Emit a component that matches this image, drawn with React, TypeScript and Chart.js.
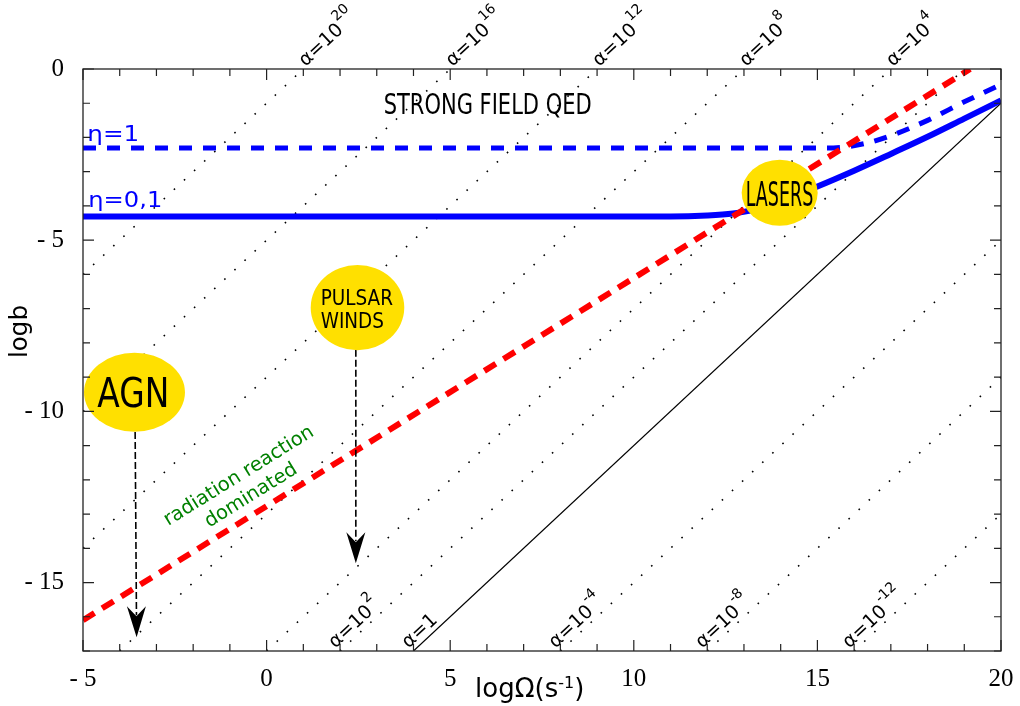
import React, { useEffect, useRef } from 'react';
import { Chart, registerables } from 'chart.js';

Chart.register(...registerables);

// ---- axis ticks ----
const xTickValues = [-5, 0, 5, 10, 15, 20];
const xTickLabels = ['- 5', '0', '5', '10', '15', '20'];
const yTickValues = [-15, -10, -5, 0];
const yTickLabels = ['- 15', '- 10', '- 5', '0'];

// ---- radiation reaction boundary (red dashed) ----
const redX = [-5, 19.16];
const redY = [-16.1, 0];

// ---- eta = 1 (blue dashed) ----
const etaOneX = [-5, 15.2, 15.8, 16.4, 17, 18, 19, 20];
const etaOneY = [-2.31, -2.31, -2.27, -2.15, -1.95, -1.5, -0.96, -0.45];

// ---- eta = 0.1 (blue solid) ----
const etaTenthX = [-5, 11, 12, 12.7, 13.3, 14, 15, 16, 17, 18, 19, 20];
const etaTenthY = [-4.31, -4.31, -4.28, -4.22, -4.1, -3.85, -3.43, -2.97, -2.48, -1.98, -1.45, -0.92];

// ---- alpha = 1 (solid black) ----
const unitX = [4, 20];
const unitY = [-17, -1];

// ---- alpha = 10^k (dotted) ----
const alphaExp = [20, 16, 12, 8, 4, 2, -4, -8, -12];
const alphaX0 = [-5, -5, -5, -4, 0, 2, 8, 12, 16];
const alphaY0 = [-6, -10, -14, -17, -17, -17, -17, -17, -17];
const alphaX1 = [1, 5, 9, 13, 17, 19, 20, 20, 20];
const alphaY1 = [0, 0, 0, 0, 0, 0, -5, -9, -13];
const alphaLabelSide = ['top', 'top', 'top', 'top', 'top', 'bottom', 'bottom', 'bottom', 'bottom'];

// ---- source regions (ellipses) ----
const regionNames = ['AGN', 'PULSAR', 'LASERS'];
const regionCX = [-3.598, 2.475, 13.973];
const regionCY = [-9.445, -6.97, -3.618];
const regionRX = [1.375, 1.274, 1.035];
const regionRY = [1.154, 1.242, 0.964];

// ---- arrows (from region down to lower field) ----
const arrowX0 = [-3.58, 2.43];
const arrowY0 = [-10.6, -8.2];
const arrowX1 = [-3.54, 2.43];
const arrowY1 = [-16.6, -14.44];

const SANS = '"DejaVu Sans", "Noto Sans", sans-serif';
const SERIF = '"Liberation Serif", "Times New Roman", serif';

const pts = (xs: number[], ys: number[]) => xs.map((v, i) => ({ x: v, y: ys[i] }));

function fitText(ctx: CanvasRenderingContext2D, text: string, x: number, y: number, size: number, width: number | null, align: CanvasTextAlign, scaleOverride?: number) {
  ctx.save();
  ctx.font = `${size}px ${SANS}`;
  const w = ctx.measureText(text).width;
  const s = scaleOverride ?? (width ? width / w : 1);
  ctx.translate(x, y);
  ctx.scale(s, 1);
  ctx.textAlign = align;
  ctx.textBaseline = 'alphabetic';
  ctx.fillText(text, 0, 0);
  ctx.restore();
  return s;
}

const overlay = {
  id: 'overlay',
  afterDatasetsDraw(chart: any) {
    const { ctx } = chart;
    const xs = chart.scales.x;
    const ys = chart.scales.y;
    const X = (v: number) => xs.getPixelForValue(v);
    const Y = (v: number) => ys.getPixelForValue(v);

    // arrows
    ctx.save();
    for (let i = 0; i < arrowX0.length; i++) {
      const sx = X(arrowX0[i]), sy = Y(arrowY0[i]);
      const tx = X(arrowX1[i]), ty = Y(arrowY1[i]);
      const dx = tx - sx, dy = ty - sy;
      const L = Math.hypot(dx, dy);
      const ux = dx / L, uy = dy / L;
      const nx = -uy, ny = ux;
      ctx.strokeStyle = '#000';
      ctx.lineWidth = 1.6;
      ctx.setLineDash([7, 3]);
      ctx.beginPath();
      ctx.moveTo(sx, sy);
      ctx.lineTo(tx - ux * 22, ty - uy * 22);
      ctx.stroke();
      ctx.setLineDash([]);
      ctx.fillStyle = '#000';
      ctx.beginPath();
      ctx.moveTo(tx, ty);
      ctx.lineTo(tx - ux * 31 + nx * 9.5, ty - uy * 31 + ny * 9.5);
      ctx.lineTo(tx - ux * 21, ty - uy * 21);
      ctx.lineTo(tx - ux * 31 - nx * 9.5, ty - uy * 31 - ny * 9.5);
      ctx.closePath();
      ctx.fill();
    }
    ctx.restore();

    // ellipses
    ctx.save();
    ctx.fillStyle = '#ffe000';
    for (let i = 0; i < regionNames.length; i++) {
      const cx = X(regionCX[i]), cy = Y(regionCY[i]);
      const rx = Math.abs(X(regionCX[i] + regionRX[i]) - cx);
      const ry = Math.abs(Y(regionCY[i] + regionRY[i]) - cy);
      ctx.beginPath();
      ctx.ellipse(cx, cy, rx, ry, 0, 0, Math.PI * 2);
      ctx.fill();
    }
    ctx.restore();

    ctx.save();
    ctx.fillStyle = '#000';
    fitText(ctx, 'AGN', X(-3.63), Y(-9.886), 41, 72, 'center');
    const s = fitText(ctx, 'PULSAR', X(1.473), Y(-6.897), 21.5, 72.3, 'left');
    fitText(ctx, 'WINDS', X(1.473), Y(-7.577), 21.5, null, 'left', s);
    fitText(ctx, 'LASERS', X(13.967), Y(-3.992), 34, 67.6, 'center');
    fitText(ctx, 'STRONG FIELD QED', X(6.02), Y(-1.3), 29, 208, 'center');
    ctx.fillStyle = '#0000ff';
    fitText(ctx, 'η=1', X(-4.883), Y(-2.104), 21, 52, 'left');
    fitText(ctx, 'η=0,1', X(-4.856), Y(-4.024), 21, 74, 'left');

    const ang = Math.atan2(Y(redY[1]) - Y(redY[0]), X(redX[1]) - X(redX[0]));
    ctx.fillStyle = '#008000';
    ctx.translate(X(-0.752), Y(-11.894));
    ctx.rotate(ang);
    ctx.font = `19.5px ${SANS}`;
    ctx.textAlign = 'center';
    ctx.textBaseline = 'middle';
    ctx.fillText('radiation reaction', 0, 0);
    ctx.fillText('dominated', 0, 23);
    ctx.restore();
  },
  afterDraw(chart: any) {
    const { ctx, chartArea: ca } = chart;
    const xs = chart.scales.x;
    const ys = chart.scales.y;
    const X = (v: number) => xs.getPixelForValue(v);
    const Y = (v: number) => ys.getPixelForValue(v);

    ctx.save();
    ctx.strokeStyle = '#222';
    ctx.lineWidth = 1.3;
    ctx.strokeRect(ca.left, ca.top, ca.right - ca.left, ca.bottom - ca.top);
    ctx.lineWidth = 1.2;
    ctx.beginPath();
    for (let v = Math.ceil(xs.min); v <= xs.max; v++) {
      const p = X(v);
      const len = v % 5 === 0 ? 11 : 7;
      ctx.moveTo(p, ca.bottom); ctx.lineTo(p, ca.bottom - len);
      ctx.moveTo(p, ca.top); ctx.lineTo(p, ca.top + len);
    }
    for (let v = Math.ceil(ys.min); v <= ys.max; v++) {
      const p = Y(v);
      const len = v % 5 === 0 ? 11 : 7;
      ctx.moveTo(ca.left, p); ctx.lineTo(ca.left + len, p);
      ctx.moveTo(ca.right, p); ctx.lineTo(ca.right - len, p);
    }
    ctx.stroke();

    const ang = Math.atan2(Y(unitY[1]) - Y(unitY[0]), X(unitX[1]) - X(unitX[0]));
    const dirX = Math.cos(ang), dirY = Math.sin(ang);
    const upX = Math.sin(ang), upY = -Math.cos(ang);
    ctx.fillStyle = '#000';
    const drawAlpha = (px: number, py: number, exp: number | null) => {
      ctx.save();
      ctx.translate(px, py);
      ctx.rotate(ang);
      ctx.textAlign = 'left';
      ctx.textBaseline = 'alphabetic';
      ctx.font = `19px ${SANS}`;
      const main = exp === null ? 'α=1' : 'α=10';
      ctx.fillText(main, 0, 0);
      if (exp !== null) {
        const w = ctx.measureText(main).width;
        ctx.font = `14px ${SANS}`;
        ctx.fillText(String(exp), w + 1, -12);
      }
      ctx.restore();
    };
    for (let i = 0; i < alphaExp.length; i++) {
      if (alphaLabelSide[i] === 'top') {
        const ix = X(alphaX1[i]), iy = Y(alphaY1[i]);
        drawAlpha(ix + dirX * 3, iy + dirY * 3, alphaExp[i]);
      } else {
        const ix = X(alphaX0[i]), iy = Y(alphaY0[i]);
        drawAlpha(ix + upX * 5 - dirX * 2, iy + upY * 5 - dirY * 2, alphaExp[i]);
      }
    }
    drawAlpha(X(unitX[0]) + upX * 5 - dirX * 2, Y(unitY[0]) + upY * 5 - dirY * 2, null);

    ctx.save();
    ctx.translate(ca.left - 56, (ca.top + ca.bottom) / 2 - 28.5);
    ctx.rotate(-Math.PI / 2);
    ctx.font = `24.5px ${SANS}`;
    ctx.textAlign = 'center';
    ctx.textBaseline = 'alphabetic';
    ctx.fillText('logb', 0, 0);
    ctx.restore();

    ctx.save();
    ctx.textAlign = 'left';
    ctx.textBaseline = 'alphabetic';
    let tx = ca.left + 392;
    const ty = ca.bottom + 46;
    ctx.font = `26px ${SANS}`;
    ctx.fillText('logΩ(s', tx, ty);
    tx += ctx.measureText('logΩ(s').width;
    ctx.font = `16px ${SANS}`;
    ctx.fillText('-1', tx, ty - 9);
    tx += ctx.measureText('-1').width;
    ctx.font = `26px ${SANS}`;
    ctx.fillText(')', tx, ty);
    ctx.restore();

    ctx.restore();
  },
};

export default function App() {
  const ref = useRef<HTMLCanvasElement | null>(null);
  useEffect(() => {
    if (!ref.current) return;
    const dotted = alphaExp.map((_, i) => ({
      data: [{ x: alphaX0[i], y: alphaY0[i] }, { x: alphaX1[i], y: alphaY1[i] }],
      borderColor: '#000',
      borderWidth: 1.6,
      borderDash: [1.6, 12.2],
      showLine: true,
      pointRadius: 0,
    }));
    const chart = new Chart(ref.current, {
      type: 'scatter',
      data: {
        datasets: [
          { data: pts(redX, redY), borderColor: '#ff0000', borderWidth: 6, borderDash: [13.5, 9], showLine: true, pointRadius: 0 },
          { data: pts(etaOneX, etaOneY), borderColor: '#0000ff', borderWidth: 5, borderDash: [13, 11], showLine: true, pointRadius: 0, cubicInterpolationMode: 'monotone' },
          { data: pts(etaTenthX, etaTenthY), borderColor: '#0000ff', borderWidth: 6, showLine: true, pointRadius: 0, cubicInterpolationMode: 'monotone' },
          { data: pts(unitX, unitY), borderColor: '#000', borderWidth: 1.2, showLine: true, pointRadius: 0 },
          ...dotted,
        ] as any,
      },
      options: {
        animation: false,
        responsive: false,
        devicePixelRatio: 1,
        layout: { padding: { left: 0, right: 19, top: 69, bottom: 0 } },
        plugins: { legend: { display: false }, tooltip: { enabled: false } },
        events: [],
        scales: {
          x: {
            type: 'linear',
            min: -5,
            max: 20,
            grid: { display: false },
            border: { display: false },
            afterBuildTicks: (s: any) => { s.ticks = xTickValues.map((v) => ({ value: v })); },
            afterFit: (s: any) => { s.height = 55; s.paddingLeft = 0; s.paddingRight = 0; },
            ticks: {
              autoSkip: false,
              maxRotation: 0,
              padding: 5,
              color: '#000',
              font: { family: SERIF, size: 25 },
              callback: (_v: any, i: number) => xTickLabels[i],
            },
          },
          y: {
            type: 'linear',
            min: -17,
            max: 0,
            grid: { display: false },
            border: { display: false },
            afterBuildTicks: (s: any) => { s.ticks = yTickValues.map((v) => ({ value: v })); },
            afterFit: (s: any) => { s.width = 83; s.paddingTop = 0; s.paddingBottom = 0; },
            ticks: {
              autoSkip: false,
              padding: 11,
              color: '#000',
              font: { family: SERIF, size: 25 },
              callback: (_v: any, i: number) => yTickLabels[i],
            },
          },
        },
      } as any,
      plugins: [overlay],
    });
    return () => chart.destroy();
  }, []);
  return (
    <div style={{ position: 'fixed', left: 0, top: 0, width: 1020, height: 706, background: '#fff' }}>
      <canvas ref={ref} width={1020} height={706} style={{ display: 'block' }} />
    </div>
  );
}
